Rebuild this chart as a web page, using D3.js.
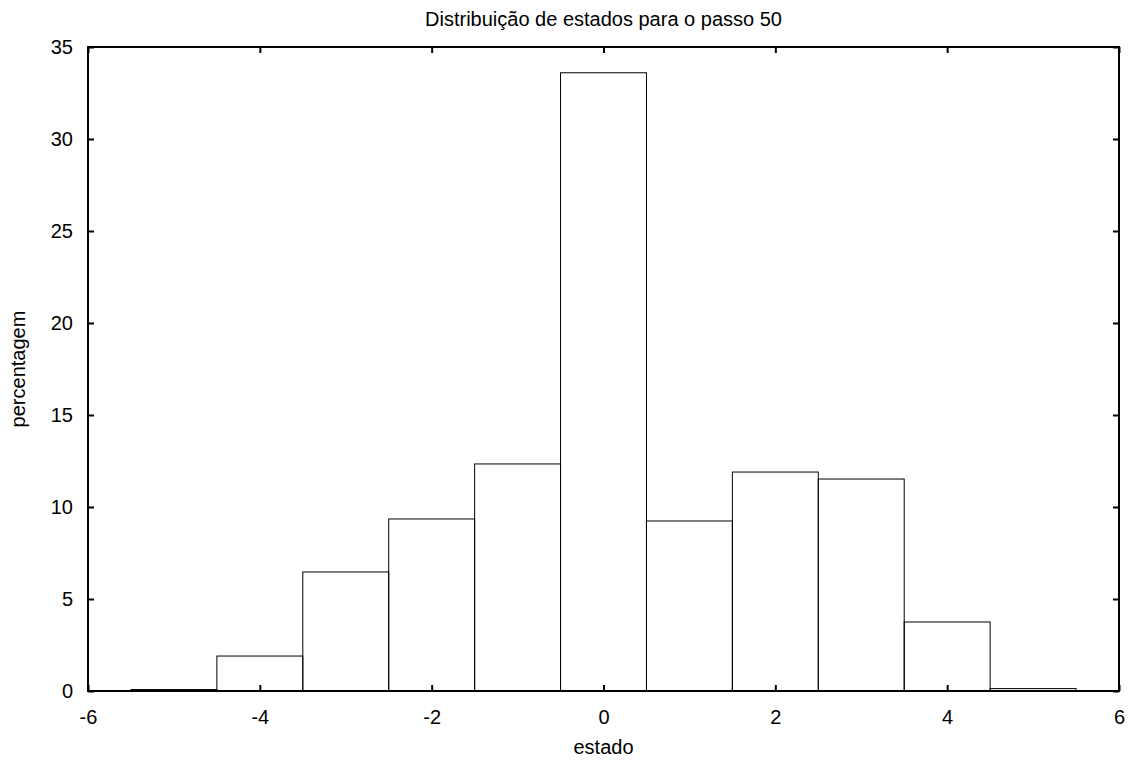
<!DOCTYPE html>
<html>
<head>
<meta charset="utf-8">
<script src="https://cdn.jsdelivr.net/npm/d3@7"></script>
<style>
  body { margin: 0; background: #fff; }
  text { font-family: "Liberation Sans", Arial, sans-serif; fill: #000; }
</style>
</head>
<body>
<div id="chart"></div>
<script>
// histogram data: state (bin center) and percentage
const estados = [-5, -4, -3, -2, -1, 0, 1, 2, 3, 4, 5];
const percentagens = [0.08, 1.9, 6.47, 9.35, 12.34, 33.6, 9.24, 11.9, 11.52, 3.75, 0.13];
const xTicks = [-6, -4, -2, 0, 2, 4, 6];
const yTicks = [0, 5, 10, 15, 20, 25, 30, 35];

const W = 1134, H = 764;
const margin = { top: 47, right: 15, bottom: 73, left: 88 };
const width = W - margin.left - margin.right;
const height = H - margin.top - margin.bottom;
const fontSize = '20px';

const svg = d3.select('#chart')
  .append('svg')
  .attr('width', W)
  .attr('height', H);

const g = svg.append('g')
  .attr('transform', `translate(${margin.left},${margin.top})`);

const x = d3.scaleLinear().domain([-6, 6]).range([0, width]);
const y = d3.scaleLinear().domain([0, 35]).range([height, 0]);

// bars
g.selectAll('.bar')
  .data(estados.map((e, i) => ({ e, v: percentagens[i] })))
  .enter()
  .append('rect')
  .attr('class', 'bar')
  .attr('x', d => x(d.e - 0.5))
  .attr('width', d => x(d.e + 0.5) - x(d.e - 0.5))
  .attr('y', d => y(d.v))
  .attr('height', d => y(0) - y(d.v))
  .attr('fill', 'none')
  .attr('stroke', '#000')
  .attr('stroke-width', 1);

// axes with inward ticks on all sides
const tickLen = 6;
const fmt = d => String(d);
const axisStyle = sel => {
  sel.select('.domain').remove();
  sel.selectAll('line').attr('stroke', '#000').attr('stroke-width', 2);
  sel.selectAll('text').style('font-size', fontSize);
};

g.append('g')
  .attr('transform', `translate(0,${height})`)
  .call(d3.axisBottom(x).tickValues(xTicks).tickFormat(fmt).tickSizeInner(-tickLen).tickSizeOuter(0).tickPadding(19))
  .call(axisStyle);

g.append('g')
  .call(d3.axisTop(x).tickValues(xTicks).tickSizeInner(-tickLen).tickSizeOuter(0).tickFormat(''))
  .call(axisStyle);

g.append('g')
  .call(d3.axisLeft(y).tickValues(yTicks).tickFormat(fmt).tickSizeInner(-tickLen).tickSizeOuter(0).tickPadding(15))
  .call(axisStyle);

g.append('g')
  .attr('transform', `translate(${width},0)`)
  .call(d3.axisRight(y).tickValues(yTicks).tickSizeInner(-tickLen).tickSizeOuter(0).tickFormat(''))
  .call(axisStyle);

// frame
g.append('rect')
  .attr('width', width)
  .attr('height', height)
  .attr('fill', 'none')
  .attr('stroke', '#000')
  .attr('stroke-width', 2);

// labels
svg.append('text')
  .attr('x', margin.left + width / 2)
  .attr('y', 26)
  .attr('text-anchor', 'middle')
  .style('font-size', fontSize)
  .text('Distribuição de estados para o passo 50');

svg.append('text')
  .attr('x', margin.left + width / 2)
  .attr('y', 754)
  .attr('text-anchor', 'middle')
  .style('font-size', fontSize)
  .text('estado');

svg.append('text')
  .attr('transform', 'rotate(-90)')
  .attr('x', -(margin.top + height / 2))
  .attr('y', 25)
  .attr('text-anchor', 'middle')
  .style('font-size', fontSize)
  .text('percentagem');
</script>
</body>
</html>
